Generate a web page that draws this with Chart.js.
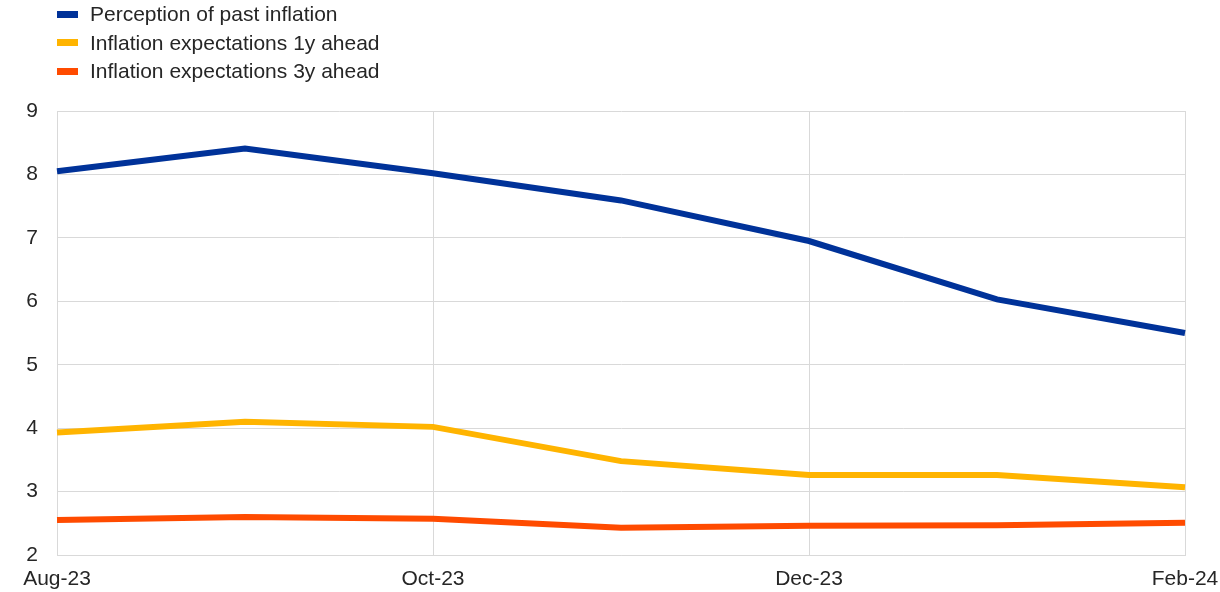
<!DOCTYPE html>
<html>
<head>
<meta charset="utf-8">
<script src="https://cdn.jsdelivr.net/npm/chart.js@4/dist/chart.umd.min.js"></script>
<style>
    body { margin: 0; background: #fff; font-family: "Liberation Sans", Arial, sans-serif; }
    #contenedor { position: relative; width: 1220px; height: 592px; }
    #leyenda { position: absolute; left: 57px; top: 0; }
    .item { height: 28.5px; display: flex; align-items: center; font-size: 21px; color: #262626; }
    .item span.caja { display: inline-block; width: 21px; height: 7px; margin-right: 12px; }
</style>
</head>
<body>
<div id="contenedor">
    <div id="leyenda"></div>
    <canvas id="grafica" width="1220" height="592"></canvas>
</div>
<script>
const meses = ["Aug-23", "Sep-23", "Oct-23", "Nov-23", "Dec-23", "Jan-24", "Feb-24"];
const percepcionPasada = [8.05, 8.41, 8.02, 7.59, 6.95, 6.03, 5.50];
const expectativas1y = [3.93, 4.10, 4.02, 3.48, 3.26, 3.26, 3.07];
const expectativas3y = [2.55, 2.60, 2.57, 2.43, 2.46, 2.47, 2.51];
const ticksY = [2, 3, 4, 5, 6, 7, 8, 9];

const series = [
    { label: "Perception of past inflation", color: "#003299", data: percepcionPasada },
    { label: "Inflation expectations 1y ahead", color: "#FFB400", data: expectativas1y },
    { label: "Inflation expectations 3y ahead", color: "#FF4B00", data: expectativas3y }
];

function leyenda() {
    const caja = document.getElementById("leyenda");
    series.forEach(s => {
        const fila = document.createElement("div");
        fila.className = "item";
        const muestra = document.createElement("span");
        muestra.className = "caja";
        muestra.style.background = s.color;
        fila.appendChild(muestra);
        fila.appendChild(document.createTextNode(s.label));
        caja.appendChild(fila);
    });
}

function graficar() {
    const ctx = document.getElementById("grafica");
    const fuente = { family: "'Liberation Sans', Arial, sans-serif", size: 21 };

    new Chart(ctx, {
        type: 'line',
        data: {
            labels: meses,
            datasets: series.map(s => ({
                label: s.label,
                data: s.data,
                borderColor: s.color,
                backgroundColor: s.color,
                borderWidth: 6,
                pointRadius: 0,
                tension: 0
            }))
        },
        options: {
            responsive: false,
            animation: false,
            layout: { padding: { top: 111, right: 0, left: 0, bottom: 0 } },
            plugins: {
                legend: { display: false },
                tooltip: { enabled: false }
            },
            scales: {
                x: {
                    offset: false,
                    grid: {
                        drawTicks: false,
                        color: c => (c.index % 2 == 0 ? "#d9d9d9" : "rgba(0,0,0,0)"),
                        lineWidth: 1
                    },
                    border: { color: "#d9d9d9" },
                    ticks: {
                        autoSkip: false,
                        maxRotation: 0,
                        padding: 12,
                        color: "#262626",
                        font: fuente,
                        callback: function (v, i) { return i % 2 == 0 ? meses[i] : ""; }
                    },
                    afterFit: scale => {
                        scale.height = 37;
                        scale.paddingRight = 35;
                    }
                },
                y: {
                    min: 2,
                    max: 9,
                    afterBuildTicks: scale => { scale.ticks = ticksY.map(v => ({ value: v })); },
                    grid: { drawTicks: false, color: "#d9d9d9" },
                    border: { color: "#d9d9d9" },
                    ticks: {
                        padding: 19,
                        color: "#262626",
                        font: fuente
                    },
                    afterFit: scale => { scale.width = 57; }
                }
            }
        }
    });
}

leyenda();
graficar();
</script>
</body>
</html>
